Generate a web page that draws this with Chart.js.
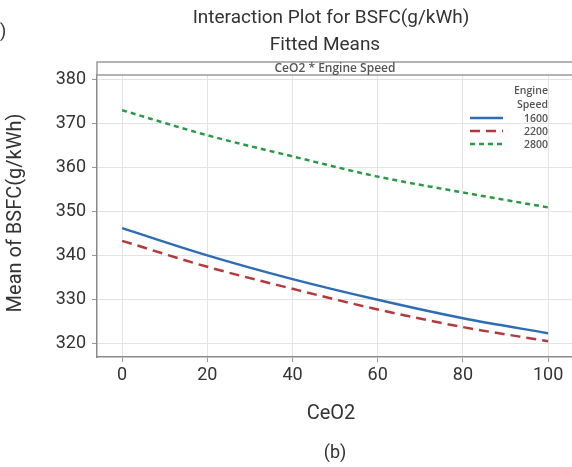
<!DOCTYPE html>
<html>
<head>
<meta charset="utf-8">
<script src="https://cdn.jsdelivr.net/npm/chart.js@4"></script>
<style>
  html, body { margin: 0; padding: 0; background: #fff; }
  #wrap { width: 572px; height: 467px; position: relative; }
</style>
</head>
<body>
<div id="wrap"><canvas id="bsfcChart" width="572" height="467"></canvas></div>
<script>
// values
const ceo2 = [0, 20, 40, 60, 80, 100];
const speed1600 = [346.3, 340.1, 334.7, 330.0, 325.8, 322.4];
const speed2200 = [343.4, 337.5, 332.5, 327.8, 323.8, 320.6];
const speed2800 = [373.1, 367.4, 362.6, 358.0, 354.4, 351.0];
const speedLabels = ['1600', '2200', '2800'];
const yTicks = [320, 330, 340, 350, 360, 370, 380];

const fontFam = 'Roboto, "Liberation Sans", sans-serif';

// titles, header strip, legend and caption
const decor = {
    id: 'decor',
    afterDraw(chart) {
        const c = chart.ctx;
        const a = chart.chartArea;
        c.save();
        c.fillStyle = '#333';
        c.textAlign = 'center';
        c.textBaseline = 'middle';
        c.font = '19px ' + fontFam;
        c.fillText('Interaction Plot for BSFC(g/kWh)', 331, 18);
        c.fillText('Fitted Means', 325, 45);
        c.font = '20px ' + fontFam;
        c.fillText('CeO2', 331, 414);
        c.font = '18px ' + fontFam;
        c.fillText('(b)', 335, 453);
        c.textAlign = 'left';
        c.fillText(')', 0, 32);

        // header strip
        c.strokeStyle = '#9a9a9a';
        c.lineWidth = 1.5;
        c.strokeRect(a.left, 62, 580, a.top - 62);
        c.fillStyle = '#555';
        c.textAlign = 'center';
        c.font = '600 12px "Open Sans", sans-serif';
        c.fillText('CeO2 * Engine Speed', 335, 68.5);

        // y title
        c.save();
        c.translate(16, 213);
        c.rotate(-Math.PI / 2);
        c.fillStyle = '#333';
        c.font = '20px ' + fontFam;
        c.fillText('Mean of BSFC(g/kWh)', 0, 0);
        c.restore();

        // legend
        c.textAlign = 'right';
        c.fillStyle = '#555';
        c.font = '600 10.5px "Open Sans", sans-serif';
        c.fillText('Engine', 548, 91);
        c.fillText('Speed', 548, 105);
        chart.data.datasets.forEach((ds, i) => {
            const y = 118 + i * 13;
            c.beginPath();
            c.strokeStyle = ds.borderColor;
            c.lineWidth = ds.borderWidth;
            c.setLineDash(ds.borderDash || []);
            c.moveTo(470, y);
            c.lineTo(503, y);
            c.stroke();
            c.setLineDash([]);
            c.fillText(speedLabels[i], 548, y + 1);
        });
        c.restore();
    }
};

new Chart(document.getElementById('bsfcChart').getContext('2d'), {
    type: 'line',
    data: {
        labels: ceo2,
        datasets: [{
            label: speedLabels[0],
            data: speed1600.map((v, i) => ({ x: ceo2[i], y: v })),
            borderColor: '#2f6db3',
            borderWidth: 2.5,
            pointRadius: 0,
            cubicInterpolationMode: 'monotone'
        }, {
            label: speedLabels[1],
            data: speed2200.map((v, i) => ({ x: ceo2[i], y: v })),
            borderColor: '#b23a3c',
            borderWidth: 2.5,
            borderDash: [10, 6],
            pointRadius: 0,
            cubicInterpolationMode: 'monotone'
        }, {
            label: speedLabels[2],
            data: speed2800.map((v, i) => ({ x: ceo2[i], y: v })),
            borderColor: '#2a9a48',
            borderWidth: 2.5,
            borderDash: [5, 4],
            pointRadius: 0,
            cubicInterpolationMode: 'monotone'
        }]
    },
    options: {
        responsive: false,
        animation: false,
        layout: { padding: { top: 75, right: 0, left: 0, bottom: 0 } },
        plugins: { legend: { display: false }, tooltip: { enabled: false } },
        scales: {
            x: {
                type: 'linear',
                min: -5.9,
                max: 105.6,
                afterBuildTicks(s) { s.ticks = ceo2.map(v => ({ value: v })); },
                afterFit(s) { s.height = 110; },
                grid: { color: '#e3e3e3', lineWidth: 1, tickLength: 5, tickColor: '#999' },
                border: { color: '#8a8a8a', width: 1.5 },
                ticks: { color: '#333', font: { family: fontFam, size: 18 }, padding: 3, maxRotation: 0 }
            },
            y: {
                min: 317,
                max: 381.1,
                afterBuildTicks(s) { s.ticks = yTicks.map(v => ({ value: v })); },
                afterFit(s) { s.width = 97; },
                grid: { color: '#e3e3e3', lineWidth: 1, tickLength: 5, tickColor: '#999' },
                border: { color: '#8a8a8a', width: 1.5 },
                ticks: { color: '#333', font: { family: fontFam, size: 18 }, padding: 6 }
            }
        }
    },
    plugins: [decor]
});
</script>
</body>
</html>
